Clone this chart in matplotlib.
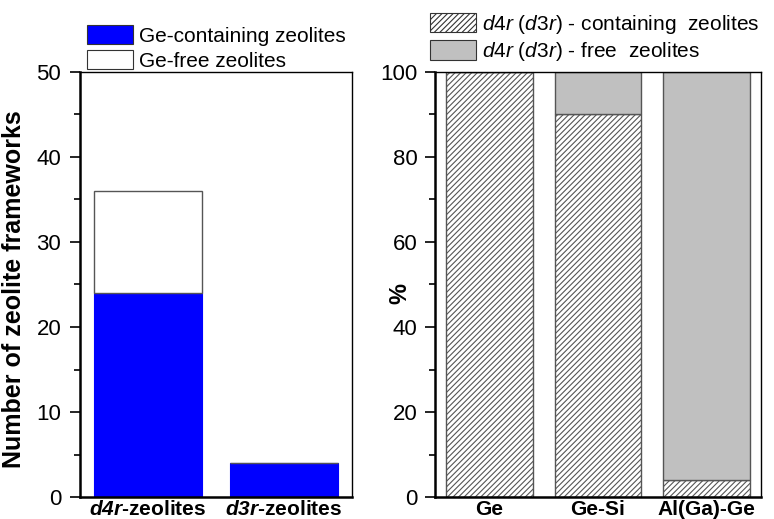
import numpy as np
import matplotlib.pyplot as plt
from matplotlib.patches import Patch

plt.rcParams['font.family'] = ['Liberation Sans', 'DejaVu Sans']
plt.rcParams['mathtext.fontset'] = 'custom'
plt.rcParams['mathtext.rm'] = 'Liberation Sans'
plt.rcParams['mathtext.it'] = 'Liberation Sans:italic'
plt.rcParams['mathtext.bf'] = 'Liberation Sans:bold'
plt.rcParams['mathtext.bfit'] = 'Liberation Sans:italic:bold'
plt.rcParams['hatch.linewidth'] = 0.8

# left panel: number of frameworks
ring_types = [r'$\mathbfit{d4r}$-zeolites', r'$\mathbfit{d3r}$-zeolites']
ge_containing = [24, 4]
ge_free = [12, 0]

# right panel: percentage
compositions = ['Ge', 'Ge-Si', 'Al(Ga)-Ge']
ring_containing = [100, 90, 4]
ring_free = [0, 10, 96]

fig = plt.figure(figsize=(7.74, 5.19), dpi=100)
ax1 = fig.add_axes([80/774, 22/519, 272/774, 425/519])
ax2 = fig.add_axes([435/774, 22/519, 326/774, 425/519])

edge = '#555555'
x1 = np.arange(len(ring_types))
ax1.bar(x1, ge_containing, width=0.8, color='#0000ff', edgecolor='#0000ff', lw=0.8)
ax1.bar(x1, ge_free, width=0.8, bottom=ge_containing, color='white', edgecolor=edge, lw=1)
ax1.set_xlim(-0.5, 1.5)
ax1.set_ylim(0, 50)
ax1.set_yticks([0, 10, 20, 30, 40, 50])
ax1.set_yticks([5, 15, 25, 35, 45], minor=True)
ax1.set_xticks(x1)
ax1.set_xticklabels(ring_types, fontsize=15, fontweight='bold')
ax1.set_ylabel('Number of zeolite frameworks', fontsize=18, fontweight='bold')
ax1.yaxis.set_label_coords(-0.2, 0.49)

x2 = np.arange(len(compositions))
ax2.bar(x2, ring_containing, width=0.8, color='white', edgecolor=edge, hatch='//////', lw=1)
ax2.bar(x2, ring_free, width=0.8, bottom=ring_containing, color='#c0c0c0', edgecolor=edge, lw=1)
ax2.set_xlim(-0.5, 2.5)
ax2.set_ylim(0, 100)
ax2.set_yticks([0, 20, 40, 60, 80, 100])
ax2.set_yticks([10, 30, 50, 70, 90], minor=True)
ax2.set_xticks(x2)
ax2.set_xticklabels(compositions, fontsize=15, fontweight='bold')
ax2.set_ylabel('%', fontsize=17, fontweight='bold')
ax2.yaxis.set_label_coords(-0.072, 0.48)

for ax, pad in ((ax1, 6.5), (ax2, 5.5)):
    ax.tick_params(axis='y', which='major', length=7, width=1.2, labelsize=16, pad=pad)
    ax.tick_params(axis='y', which='minor', length=4, width=1.2)
    ax.tick_params(axis='x', length=0, pad=2)
    ax.spines['left'].set_linewidth(1.8)
    ax.spines['bottom'].set_linewidth(1.8)
    ax.spines['top'].set_linewidth(1)
    ax.spines['right'].set_linewidth(1)

h1 = [Patch(facecolor='#0000ff', edgecolor='#333333', lw=0.8),
      Patch(facecolor='white', edgecolor='#333333', lw=0.8)]
ax1.legend(h1, ['Ge-containing zeolites', 'Ge-free zeolites'], loc='lower left',
           bbox_to_anchor=(0.025, 1.003), frameon=False, fontsize=15,
           handlelength=2.2, handleheight=1.05, handletextpad=0.3, labelspacing=0.2,
           borderpad=0, borderaxespad=0)

h2 = [Patch(facecolor='white', edgecolor='#333333', hatch='//////', lw=0.8),
      Patch(facecolor='#c0c0c0', edgecolor='#333333', lw=0.8)]
ax2.legend(h2, [r'$\mathit{d4r}$ ($\mathit{d3r}$) - containing  zeolites',
                r'$\mathit{d4r}$ ($\mathit{d3r}$) - free  zeolites'],
           loc='lower left', bbox_to_anchor=(-0.015, 1.021), frameon=False, fontsize=15,
           handlelength=2.2, handleheight=1.05, handletextpad=0.3, labelspacing=0.2,
           borderpad=0, borderaxespad=0)

fig.savefig('out.png', dpi=100)
